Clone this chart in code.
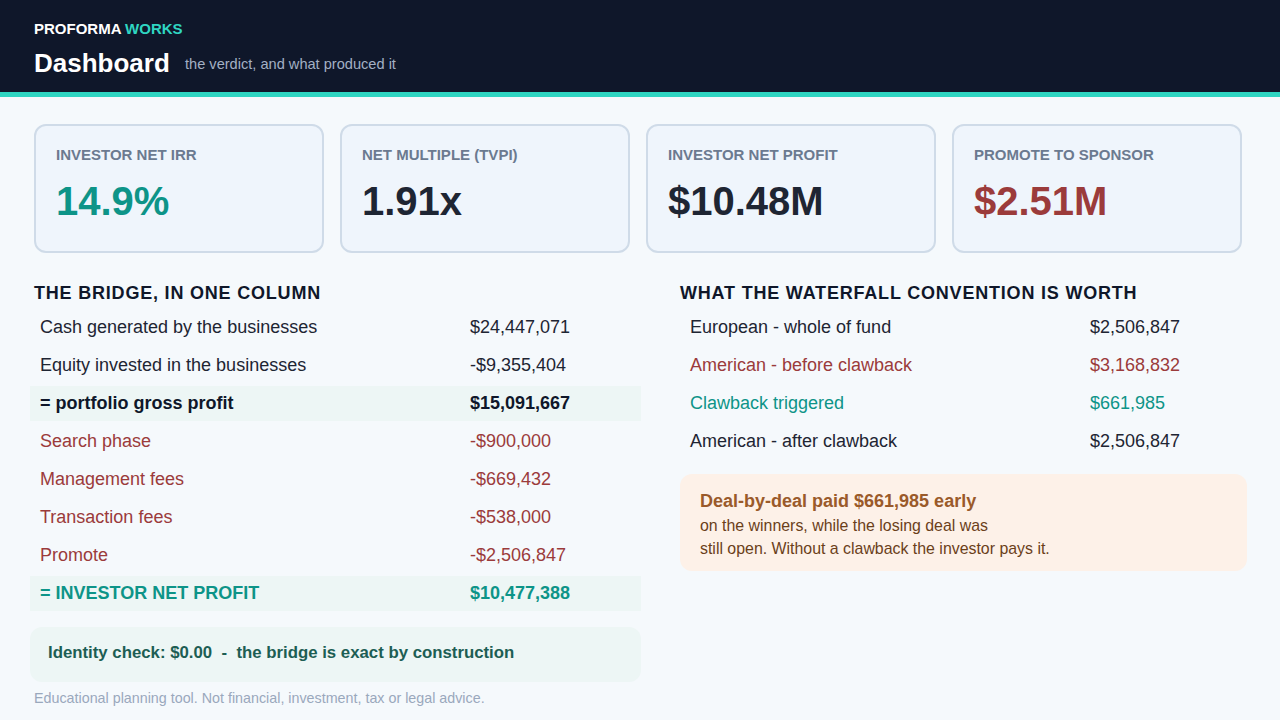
<!DOCTYPE html>
<html>
<head>
<meta charset="utf-8">
<title>Dashboard</title>
<script src="https://cdn.jsdelivr.net/npm/chart.js@4.4.1/dist/chart.umd.min.js"></script>
<style>
    * { box-sizing: border-box; }
    body {
        margin: 0;
        width: 1280px;
        height: 720px;
        overflow: hidden;
        background: #f5f9fc;
        font-family: "Liberation Sans", Arial, sans-serif;
        color: #1e2533;
        position: relative;
    }
    .topo {
        position: absolute; left: 0; top: 0; width: 1280px; height: 97px;
        background: #0f172a;
        border-bottom: 5px solid #2fd6c2;
    }
    .marca { position: absolute; left: 34px; top: 20px; font-size: 15px; font-weight: bold; color: #fff; }
    .marca span { color: #2fd6c2; }
    .titulo { position: absolute; left: 34px; top: 48px; font-size: 26px; font-weight: bold; color: #fff; }
    .subtitulo { position: absolute; left: 185px; top: 56px; font-size: 14.6px; color: #a3b0c4; }

    .card {
        position: absolute; top: 124px; width: 290px; height: 129px;
        background: #eff5fc;
        border: 2px solid #cfdbe8;
        border-radius: 12px;
    }
    .card .rotulo { position: absolute; left: 20px; top: 20px; font-size: 15px; font-weight: bold; color: #6b7a90; }
    .card .valor { position: absolute; left: 20px; top: 53px; font-size: 40px; font-weight: bold; }

    .secao { position: absolute; top: 283px; font-size: 18px; font-weight: bold; color: #0f172a; letter-spacing: 0.8px; }
    .linha { position: absolute; height: 35px; font-size: 18px; }
    .linha .l, .linha .v { position: absolute; top: 7px; white-space: nowrap; }
    .faixa { background: #edf6f5; }

    .caixa-id {
        position: absolute; left: 30px; top: 627px; width: 611px; height: 55px;
        background: #edf6f5; border-radius: 12px;
        font-size: 16.8px; font-weight: bold; color: #1d5e54;
        padding: 16px 0 0 18px; white-space: pre;
    }
    .rodape { position: absolute; left: 34px; top: 690px; font-size: 14.3px; color: #9aa8bc; }
    .nota {
        position: absolute; left: 680px; top: 474px; width: 567px; height: 97px;
        background: #fdf1e8; border-radius: 12px;
        padding: 17px 20px 0 20px;
    }
    .nota .forte { font-size: 18px; font-weight: bold; color: #9a5a2a; }
    .nota .texto { font-size: 15.9px; color: #6b3f1a; line-height: 23px; margin-top: 2px; }
</style>
</head>
<body>
<div class="topo">
    <div class="marca">PROFORMA <span>WORKS</span></div>
    <div class="titulo">Dashboard</div>
    <div class="subtitulo">the verdict, and what produced it</div>
</div>
<div id="cards"></div>
<div class="secao" style="left:34px">THE BRIDGE, IN ONE COLUMN</div>
<div class="secao" style="left:680px">WHAT THE WATERFALL CONVENTION IS WORTH</div>
<div id="ponte"></div>
<div id="cascata"></div>
<div class="caixa-id" id="caixa-id"></div>
<div class="nota">
    <div class="forte" id="nota-forte"></div>
    <div class="texto">on the winners, while the losing deal was<br>still open. Without a clawback the investor pays it.</div>
</div>
<div class="rodape">Educational planning tool. Not financial, investment, tax or legal advice.</div>

<script>
// Indicadores do topo
const kpiRotulos = ['INVESTOR NET IRR', 'NET MULTIPLE (TVPI)', 'INVESTOR NET PROFIT', 'PROMOTE TO SPONSOR'];
const kpiValores = ['14.9%', '1.91x', '$10.48M', '$2.51M'];
const kpiTons = ['bom', 'neutro', 'neutro', 'ruim'];

// A ponte, linha a linha
const ponteRotulos = [
    'Cash generated by the businesses',
    'Equity invested in the businesses',
    '= portfolio gross profit',
    'Search phase',
    'Management fees',
    'Transaction fees',
    'Promote',
    '= INVESTOR NET PROFIT'
];
const ponteValores = [24447071, -9355404, 15091667, -900000, -669432, -538000, -2506847, 10477388];
const ponteTipos = ['neutro', 'neutro', 'subtotal', 'ruim', 'ruim', 'ruim', 'ruim', 'total'];

// Convenções de cascata
const cascataRotulos = ['European - whole of fund', 'American - before clawback', 'Clawback triggered', 'American - after clawback'];
const cascataValores = [2506847, 3168832, 661985, 2506847];
const cascataTipos = ['neutro', 'ruim', 'bom', 'neutro'];

const identidade = 0;
const clawbackAntecipado = 661985;

const cores = { bom: '#0d9488', neutro: '#1e2533', ruim: '#9b3b3b', subtotal: '#0f172a', total: '#0d9488' };

function moeda(v) {
    const s = '$' + Math.abs(v).toLocaleString('en-US');
    return v < 0 ? '-' + s : s;
}

// Cards
const cardsEl = document.getElementById('cards');
kpiRotulos.forEach((r, i) => {
    const c = document.createElement('div');
    c.className = 'card';
    c.style.left = (34 + i * 306) + 'px';
    c.innerHTML = `<div class="rotulo">${r}</div><div class="valor" style="color:${cores[kpiTons[i]]}">${kpiValores[i]}</div>`;
    cardsEl.appendChild(c);
});

// Tabelas
function montarTabela(el, rotulos, valores, tipos, x, largura, xValor) {
    rotulos.forEach((r, i) => {
        const t = tipos[i];
        const linha = document.createElement('div');
        linha.className = 'linha' + (t === 'subtotal' || t === 'total' ? ' faixa' : '');
        linha.style.left = x + 'px';
        linha.style.width = largura + 'px';
        linha.style.top = (310 + i * 38) + 'px';
        const cor = cores[t];
        const peso = (t === 'subtotal' || t === 'total') ? 'bold' : 'normal';
        linha.innerHTML = `<span class="l" style="left:10px;color:${cor};font-weight:${peso}">${r}</span>` +
            `<span class="v" style="left:${xValor}px;color:${cor};font-weight:${peso}">${moeda(valores[i])}</span>`;
        el.appendChild(linha);
    });
}
montarTabela(document.getElementById('ponte'), ponteRotulos, ponteValores, ponteTipos, 30, 611, 440);
montarTabela(document.getElementById('cascata'), cascataRotulos, cascataValores, cascataTipos, 680, 567, 410);

document.getElementById('caixa-id').textContent =
    'Identity check: $' + identidade.toFixed(2) + '  -  the bridge is exact by construction';
document.getElementById('nota-forte').textContent = 'Deal-by-deal paid ' + moeda(clawbackAntecipado) + ' early';
</script>
</body>
</html>
